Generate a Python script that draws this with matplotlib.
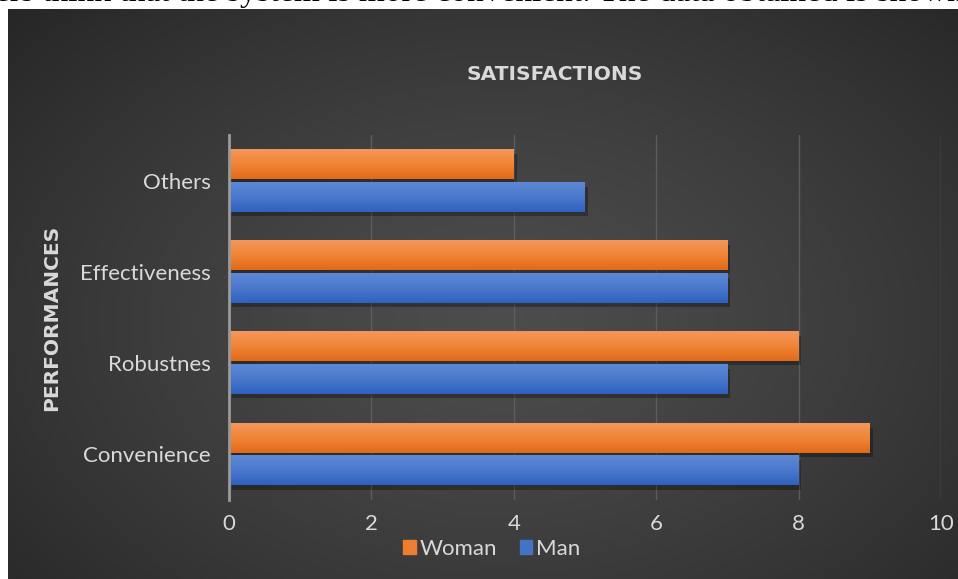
import numpy as np
import matplotlib
matplotlib.use("Agg")
from matplotlib import pyplot as plt
from matplotlib import patheffects as pe
from matplotlib.patches import Patch
from matplotlib.colors import LinearSegmentedColormap

# data
categories = ["Convenience", "Robustnes", "Effectiveness", "Others"]
woman = [9, 8, 7, 4]
man = [8, 7, 7, 5]
series_names = ["Woman", "Man"]

W, H = 958, 579
fig = plt.figure(figsize=(W / 100, H / 100), dpi=100)
fig.patch.set_facecolor("white")

# clipped line of document text above the chart
fig.text(-5 / W, 1 - 1.5 / H, "ers think that the system is more convenient. The data obtained is shown",
         family="Liberation Serif", fontsize=24, color="black", va="baseline", ha="left")

# dark radial background panel
bg = fig.add_axes([8 / W, 0, (W - 8) / W, (H - 9) / H])
bg.set_axis_off()
yy, xx = np.mgrid[0:1:300j, 0:1:500j]
r = np.sqrt(((xx - 0.52) / 0.75) ** 2 + ((yy - 0.45) / 0.85) ** 2)
shade = 0.30 - 0.16 * np.clip(r, 0, 1) ** 1.3
bg.imshow(np.dstack([shade] * 3), aspect="auto", extent=[0, 1, 0, 1], origin="lower")

ax = fig.add_axes([229 / W, 1 - 500 / H, (941 - 229) / W, (500 - 135) / H])
ax.patch.set_alpha(0)

y = np.arange(len(categories))
h = 0.32
orange_grad = LinearSegmentedColormap.from_list("o", ["#e2691a", "#f08535", "#f4965c"])
blue_grad = LinearSegmentedColormap.from_list("b", ["#2f62bf", "#4a78cc", "#5e88d5"])
shadow = [pe.SimplePatchShadow(offset=(2, -3), shadow_rgbFace="black", alpha=0.3), pe.Normal()]

bw = ax.barh(y + 0.18, woman, height=h, color="#ed7d31", path_effects=shadow, zorder=3)
bm = ax.barh(y - 0.18, man, height=h, color="#4472c4", path_effects=shadow, zorder=3)

grad = np.linspace(0, 1, 50).reshape(-1, 1)
for bars, cmap in [(bw, orange_grad), (bm, blue_grad)]:
    for b in bars:
        x0, y0 = b.get_x(), b.get_y()
        ax.imshow(grad, cmap=cmap, aspect="auto", origin="lower", zorder=4,
                  extent=[x0, x0 + b.get_width(), y0, y0 + b.get_height()])

ax.set_xlim(0, 10)
ax.set_ylim(-0.5, 3.5)
ax.set_xticks(range(0, 11, 2))
ax.set_yticks(y)
ax.set_yticklabels(categories)
ax.grid(axis="x", color="#5c5c5c", linewidth=1, zorder=0)
ax.set_axisbelow(True)
for s in ["top", "right", "bottom"]:
    ax.spines[s].set_visible(False)
ax.spines["left"].set_color("#9a9a9a")
ax.spines["left"].set_linewidth(2)
ax.spines["left"].set_zorder(5)
ax.tick_params(length=0, colors="#d9d9d9", labelsize=16)
ax.tick_params(axis="y", pad=13)
ax.tick_params(axis="x", pad=10)
for t in ax.get_xticklabels() + ax.get_yticklabels():
    t.set_family("Lato")

fig.text(555 / W, 1 - 75 / H, "SATISFACTIONS", ha="center", va="center",
         fontsize=14.5, fontweight="bold", color="#d9d9d9")
fig.text(52 / W, 1 - 318 / H, "PERFORMANCES", ha="center", va="center", rotation=90,
         fontsize=14.5, fontweight="bold", color="#d9d9d9")

handles = [Patch(color="#ed7d31"), Patch(color="#4472c4")]
leg = fig.legend(handles, series_names, loc="center", bbox_to_anchor=(492 / W, 1 - 549 / H),
                 ncol=2, frameon=False, handlelength=0.55, handleheight=0.55, handletextpad=0.2,
                 columnspacing=1.0, prop={"family": "Lato", "size": 16})
for t in leg.get_texts():
    t.set_color("#d9d9d9")

plt.savefig("out.png", dpi=100)
